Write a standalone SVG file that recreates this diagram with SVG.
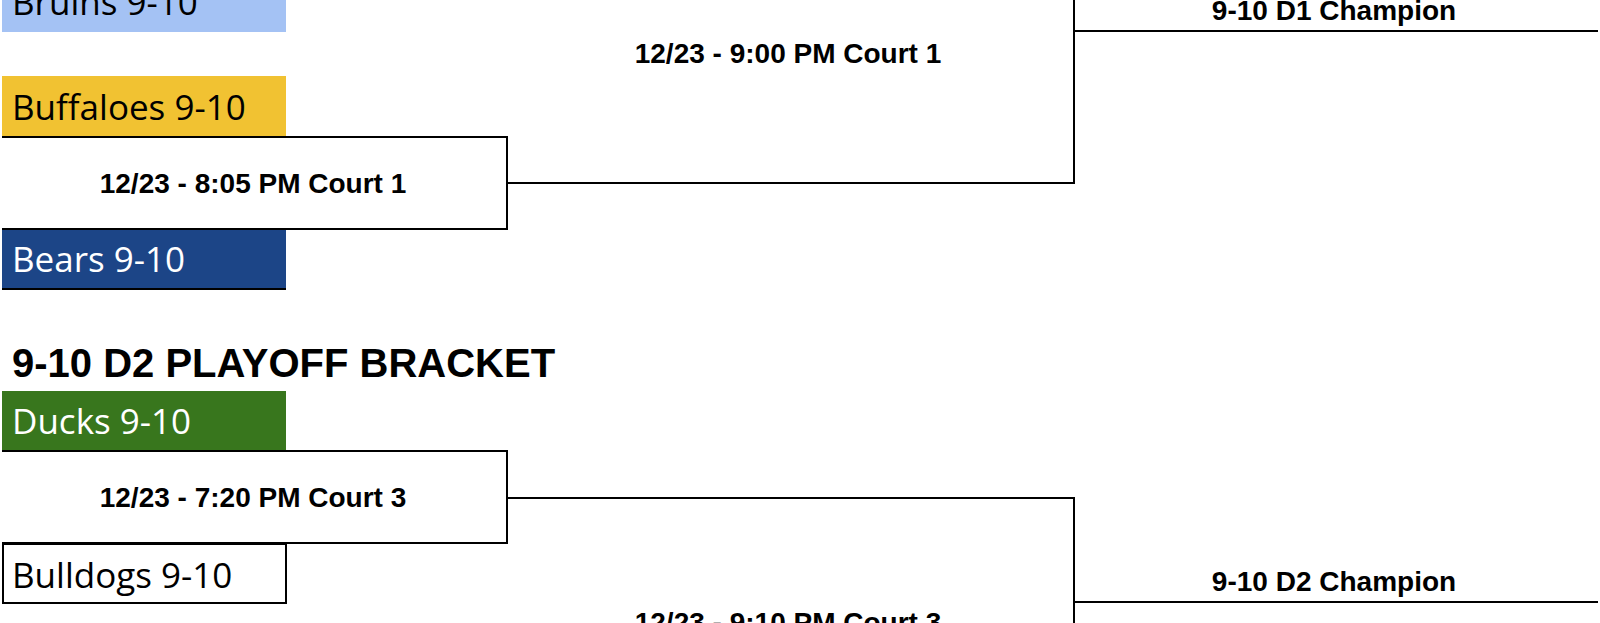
<svg xmlns="http://www.w3.org/2000/svg" width="1600" height="623" viewBox="0 0 1600 623">
<style>
.team{font-family:"Open Sans","Liberation Sans",sans-serif;font-size:35px}
.game{font-family:"Liberation Sans",Arial,sans-serif;font-weight:bold;font-size:28px;text-anchor:middle;fill:#000}
.title{font-family:"Liberation Sans",Arial,sans-serif;font-weight:bold;font-size:40px;fill:#000}
.ln{fill:none;stroke:#000;stroke-width:2}
</style>
<rect width="1600" height="623" fill="#fff"/>
<g id="bruins"><rect x="2" y="-30" width="284" height="62" fill="#a4c2f4"/><text class="team" x="12" y="15" fill="#000">Bruins 9-10</text></g>
<g id="buffaloes"><rect x="2" y="76" width="284" height="61" fill="#f1c232"/><text class="team" x="12" y="120" fill="#000">Buffaloes 9-10</text></g>
<g id="game1"><path class="ln" d="M2,137 H507 V229 H2"/><text class="game" x="253" y="193">12/23 - 8:05 PM Court 1</text></g>
<g id="bears"><rect x="2" y="230" width="284" height="59" fill="#1c4587"/><line class="ln" x1="2" y1="289" x2="286" y2="289"/><text class="team" x="12" y="272" fill="#fff">Bears 9-10</text></g>
<g id="game2"><text class="game" x="788" y="63">12/23 - 9:00 PM Court 1</text></g>
<g id="d1champ"><text class="game" x="1334" y="20">9-10 D1 Champion</text></g>
<g id="title"><text class="title" x="12" y="377">9-10 D2 PLAYOFF BRACKET</text></g>
<g id="ducks"><rect x="2" y="391" width="284" height="60" fill="#38761d"/><text class="team" x="12" y="434" fill="#fff">Ducks 9-10</text></g>
<g id="game3"><path class="ln" d="M2,451 H507 V543 H2"/><text class="game" x="253" y="507">12/23 - 7:20 PM Court 3</text></g>
<g id="bulldogs"><rect class="ln" x="3" y="544" width="283" height="59" fill="#fff"/><text class="team" x="12" y="588" fill="#000">Bulldogs 9-10</text></g>
<g id="game4"><text class="game" x="788" y="632">12/23 - 9:10 PM Court 3</text></g>
<g id="d2champ"><text class="game" x="1334" y="591">9-10 D2 Champion</text></g>
<g id="connectors">
<path class="ln" d="M507,183 H1074 V-5"/>
<path class="ln" d="M1074,31 H1598"/>
<path class="ln" d="M507,498 H1074 V630"/>
<path class="ln" d="M1074,602 H1598"/>
</g>
</svg>
